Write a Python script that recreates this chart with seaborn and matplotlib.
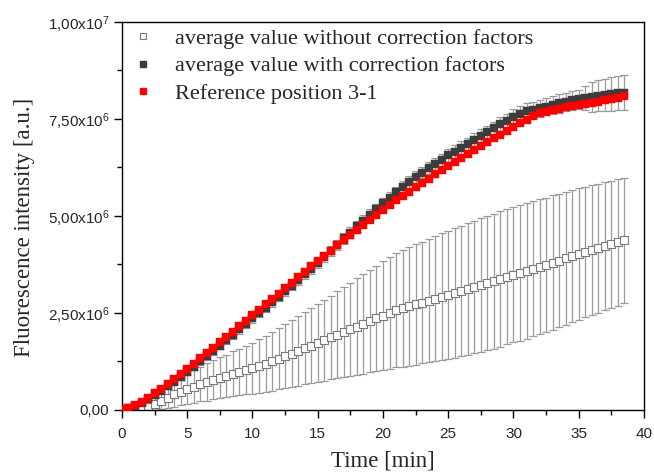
import numpy as np
import pandas as pd
import seaborn as sns
import matplotlib
matplotlib.use("Agg")
import matplotlib.pyplot as plt
from matplotlib.lines import Line2D
from matplotlib.ticker import FuncFormatter, MultipleLocator

# Time axis [min], one reading every 0.5 min
time_min = [i * 0.5 for i in range(78)]

# Average value without correction factors (x1e6 a.u.) and its standard deviation
avg_uncorrected = [
    0.00, 0.00, 0.02, 0.05, 0.09, 0.16, 0.24, 0.32, 0.40, 0.47,
    0.54, 0.60, 0.67, 0.72, 0.78, 0.83, 0.88, 0.93, 0.98, 1.03,
    1.07, 1.13, 1.19, 1.26, 1.32, 1.39, 1.45, 1.52, 1.59, 1.66,
    1.73, 1.80, 1.87, 1.94, 2.01, 2.08, 2.15, 2.22, 2.29, 2.36,
    2.43, 2.50, 2.57, 2.62, 2.67, 2.72, 2.77, 2.82, 2.87, 2.92,
    2.97, 3.02, 3.07, 3.12, 3.17, 3.22, 3.27, 3.32, 3.38, 3.44,
    3.49, 3.54, 3.59, 3.64, 3.69, 3.74, 3.80, 3.85, 3.91, 3.96,
    4.02, 4.07, 4.12, 4.17, 4.22, 4.27, 4.32, 4.37,
]
sd_uncorrected = [
    0.00, 0.01, 0.03, 0.07, 0.12, 0.17, 0.22, 0.27, 0.31, 0.35,
    0.39, 0.42, 0.45, 0.48, 0.50, 0.53, 0.55, 0.58, 0.60, 0.62,
    0.65, 0.69, 0.72, 0.76, 0.79, 0.83, 0.86, 0.90, 0.93, 0.97,
    1.00, 1.04, 1.08, 1.12, 1.16, 1.20, 1.24, 1.28, 1.32, 1.36,
    1.40, 1.44, 1.47, 1.50, 1.53, 1.55, 1.57, 1.59, 1.61, 1.63,
    1.65, 1.67, 1.68, 1.70, 1.71, 1.72, 1.73, 1.74, 1.75, 1.75,
    1.75, 1.75, 1.75, 1.74, 1.74, 1.73, 1.73, 1.72, 1.71, 1.70,
    1.69, 1.68, 1.67, 1.66, 1.65, 1.64, 1.63, 1.62,
]

# Average value with correction factors (x1e6 a.u.) and its standard deviation
avg_corrected = [
    0.00, 0.04, 0.10, 0.18, 0.28, 0.38, 0.49, 0.61, 0.73, 0.86,
    0.99, 1.12, 1.25, 1.38, 1.52, 1.66, 1.80, 1.94, 2.08, 2.22,
    2.36, 2.50, 2.64, 2.78, 2.92, 3.06, 3.20, 3.35, 3.50, 3.64,
    3.79, 3.94, 4.09, 4.26, 4.42, 4.57, 4.73, 4.88, 5.03, 5.18,
    5.33, 5.47, 5.61, 5.75, 5.88, 6.00, 6.12, 6.23, 6.34, 6.45,
    6.56, 6.66, 6.76, 6.86, 6.96, 7.06, 7.16, 7.26, 7.36, 7.46,
    7.56, 7.64, 7.70, 7.74, 7.78, 7.82, 7.86, 7.90, 7.94, 7.98,
    8.01, 8.04, 8.07, 8.10, 8.12, 8.14, 8.16, 8.18,
]
sd_corrected = [
    0.00, 0.02, 0.03, 0.04, 0.05, 0.06, 0.06, 0.07, 0.07, 0.08,
    0.08, 0.09, 0.09, 0.09, 0.10, 0.10, 0.10, 0.10, 0.11, 0.11,
    0.11, 0.11, 0.11, 0.12, 0.12, 0.12, 0.12, 0.12, 0.13, 0.13,
    0.13, 0.13, 0.13, 0.13, 0.14, 0.14, 0.14, 0.14, 0.14, 0.14,
    0.14, 0.14, 0.15, 0.15, 0.15, 0.15, 0.15, 0.15, 0.15, 0.16,
    0.16, 0.16, 0.16, 0.16, 0.17, 0.17, 0.17, 0.17, 0.18, 0.18,
    0.19, 0.20, 0.21, 0.21, 0.22, 0.22, 0.23, 0.24, 0.24, 0.25,
    0.25, 0.30, 0.38, 0.40, 0.41, 0.43, 0.44, 0.46,
]

# Reference position 3-1 (x1e6 a.u.)
reference_3_1 = [
    0.00, 0.05, 0.12, 0.21, 0.32, 0.43, 0.55, 0.67, 0.80, 0.93,
    1.06, 1.19, 1.33, 1.46, 1.60, 1.74, 1.88, 2.02, 2.16, 2.30,
    2.44, 2.58, 2.72, 2.86, 3.00, 3.14, 3.28, 3.42, 3.56, 3.70,
    3.84, 3.98, 4.11, 4.25, 4.38, 4.51, 4.64, 4.77, 4.90, 5.03,
    5.16, 5.28, 5.40, 5.51, 5.63, 5.74, 5.85, 5.96, 6.08, 6.19,
    6.30, 6.40, 6.50, 6.60, 6.70, 6.80, 6.90, 7.00, 7.10, 7.20,
    7.30, 7.39, 7.48, 7.57, 7.65, 7.69, 7.73, 7.76, 7.80, 7.83,
    7.86, 7.89, 7.92, 7.95, 7.98, 8.02, 8.05, 8.09,
]

series_labels = [
    "average value without correction factors",
    "average value with correction factors",
    "Reference position 3-1",
]

SCALE = 1e6
df = pd.DataFrame({
    "time": time_min,
    "uncorr": np.array(avg_uncorrected) * SCALE,
    "uncorr_sd": np.array(sd_uncorrected) * SCALE,
    "corr": np.array(avg_corrected) * SCALE,
    "corr_sd": np.array(sd_corrected) * SCALE,
    "ref": np.array(reference_3_1) * SCALE,
})

sns.set_style("ticks")
plt.rcParams["font.family"] = ["Liberation Sans", "DejaVu Sans"]
plt.rcParams["mathtext.fontset"] = "custom"
plt.rcParams["mathtext.rm"] = "Liberation Sans"
plt.rcParams["mathtext.it"] = "Liberation Sans:italic"

fig = plt.figure(figsize=(6.54, 4.73), dpi=100)
ax = fig.add_axes([0.1865, 0.1332, 0.7982, 0.8203])

bar_grey = "#9a9a9a"
dark = "#3c3c3c"
red = "#ff0000"
msize = 32

# uncorrected average with its wide spread
ax.errorbar(df["time"], df["uncorr"], yerr=df["uncorr_sd"], fmt="none",
            ecolor=bar_grey, elinewidth=0.9, capsize=3.2, capthick=0.9, zorder=1)
sns.scatterplot(data=df, x="time", y="uncorr", marker="s", s=38,
                facecolor="white", edgecolor="#7a7a7a", linewidth=0.8,
                ax=ax, zorder=2, legend=False)

# corrected average
ax.errorbar(df["time"], df["corr"], yerr=df["corr_sd"], fmt="none",
            ecolor=bar_grey, elinewidth=0.9, capsize=3.2, capthick=0.9, zorder=3)
sns.scatterplot(data=df, x="time", y="corr", marker="s", s=msize,
                color=dark, edgecolor=dark, linewidth=0.3,
                ax=ax, zorder=4, legend=False)

# reference position
sns.scatterplot(data=df, x="time", y="ref", marker="s", s=msize,
                color=red, edgecolor=red, linewidth=0.3,
                ax=ax, zorder=5, legend=False)

ax.set_xlim(0, 40)
ax.set_ylim(0, 1e7)
ax.xaxis.set_major_locator(MultipleLocator(5))
ax.xaxis.set_minor_locator(MultipleLocator(2.5))
ax.yaxis.set_major_locator(MultipleLocator(2.5e6))
ax.yaxis.set_minor_locator(MultipleLocator(1.25e6))


def y_fmt(v, pos):
    if v <= 0:
        return "0,00" if abs(v) < 1 else ""
    exp = int(np.floor(np.log10(v)))
    mant = v / 10 ** exp
    return ("%.2f" % mant).replace(".", ",") + "x10$^{%d}$" % exp


ax.yaxis.set_major_formatter(FuncFormatter(y_fmt))
ax.tick_params(axis="both", which="major", direction="out", length=6,
               width=1.0, labelsize=11, color="black")
ax.tick_params(axis="x", which="major", pad=6)
ax.tick_params(axis="y", which="major", pad=3)
ax.tick_params(axis="both", which="minor", direction="out", length=3.5,
               width=1.0, color="black")
for side in ["top", "right", "bottom", "left"]:
    ax.spines[side].set_visible(True)
    ax.spines[side].set_linewidth(1.0)
    ax.spines[side].set_color("black")

serif = ["Liberation Serif", "DejaVu Serif"]
ax.set_xlabel("Time [min]", fontsize=16.5, family=serif, labelpad=7)
ax.set_ylabel("Fluorescence intensity [a.u.]", fontsize=16.5, family=serif)
ax.yaxis.set_label_coords(-0.166, 0.47)

handles = [
    Line2D([], [], linestyle="none", marker="s", markersize=4.5,
           markerfacecolor="white", markeredgecolor="#7a7a7a", markeredgewidth=0.8),
    Line2D([], [], linestyle="none", marker="s", markersize=4.5,
           markerfacecolor=dark, markeredgecolor=dark),
    Line2D([], [], linestyle="none", marker="s", markersize=4.5,
           markerfacecolor=red, markeredgecolor=red),
]
ax.legend(handles, series_labels, loc="upper left", frameon=False,
          prop={"family": serif, "size": 16}, handlelength=1.0,
          handletextpad=0.95, labelspacing=0.3, borderaxespad=0.1,
          borderpad=0.2, bbox_to_anchor=(0.006, 1.0))

fig.savefig("out.png", dpi=100)
